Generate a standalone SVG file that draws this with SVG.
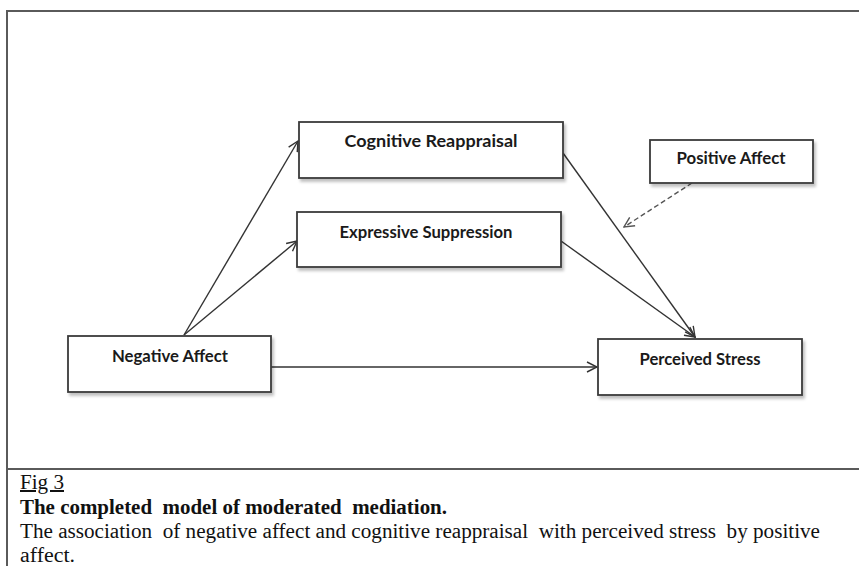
<svg xmlns="http://www.w3.org/2000/svg" width="859" height="566" viewBox="0 0 859 566">
<style>
.box{fill:#fff;stroke:#3a3a3a;stroke-width:1.8}
.lbl{font-family:Lato,"Liberation Sans",sans-serif;font-weight:700;font-size:17px;fill:#1a1a1a;text-anchor:middle}
.edge{fill:none;stroke:#333;stroke-width:1.4}
.dash{fill:none;stroke:#555;stroke-width:1.4;stroke-dasharray:5 3}
.cap{font-family:"Liberation Serif","Times New Roman",serif;font-size:20px;fill:#111;white-space:pre}
.frame{stroke:#5a5a5a;stroke-width:2;fill:none}
</style>
<defs>
<marker id="arr" viewBox="0 0 12 12" refX="11" refY="6" markerWidth="12" markerHeight="12" markerUnits="userSpaceOnUse" orient="auto">
<path d="M1,1 L11,6 L1,11" fill="none" stroke="#333" stroke-width="1.4"/>
</marker>
<marker id="arrd" viewBox="0 0 12 12" refX="11" refY="6" markerWidth="12" markerHeight="12" markerUnits="userSpaceOnUse" orient="auto">
<path d="M1,1 L11,6 L1,11" fill="none" stroke="#555" stroke-width="1.4"/>
</marker>
<filter id="sh" x="-10%" y="-20%" width="130%" height="160%">
<feDropShadow dx="2" dy="3" stdDeviation="1.5" flood-color="#000" flood-opacity="0.25"/>
</filter>
</defs>
<rect width="859" height="566" fill="#fff"/>
<g id="frame">
<line class="frame" x1="7" y1="11" x2="859" y2="11"/>
<line class="frame" x1="7" y1="10" x2="7" y2="566"/>
<line class="frame" x1="7" y1="469" x2="859" y2="469" stroke-width="1.6"/>
</g>
<g id="connectors">
<line class="edge" x1="184" y1="335" x2="298" y2="141" marker-end="url(#arr)"/>
<line class="edge" x1="184" y1="335" x2="297" y2="241" marker-end="url(#arr)"/>
<line class="edge" x1="271" y1="367" x2="597" y2="367" marker-end="url(#arr)"/>
<line class="edge" x1="563" y1="153" x2="695" y2="337" marker-end="url(#arr)"/>
<line class="edge" x1="561" y1="241" x2="695" y2="337" marker-end="url(#arr)"/>
<line class="dash" x1="692" y1="183" x2="624" y2="227" marker-end="url(#arrd)"/>
</g>
<g id="cognitive-reappraisal">
<rect class="box" x="299" y="122" width="264" height="56" filter="url(#sh)"/>
<text class="lbl" x="431" y="147" textLength="173" lengthAdjust="spacingAndGlyphs">Cognitive Reappraisal</text>
</g>
<g id="expressive-suppression">
<rect class="box" x="297" y="212" width="264" height="55" filter="url(#sh)"/>
<text class="lbl" x="426" y="238" textLength="173" lengthAdjust="spacingAndGlyphs">Expressive Suppression</text>
</g>
<g id="positive-affect">
<rect class="box" x="650" y="140" width="163" height="43" filter="url(#sh)"/>
<text class="lbl" x="731" y="164" textLength="109" lengthAdjust="spacingAndGlyphs">Positive Affect</text>
</g>
<g id="negative-affect">
<rect class="box" x="68" y="336" width="203" height="56" filter="url(#sh)"/>
<text class="lbl" x="170" y="362" textLength="116" lengthAdjust="spacingAndGlyphs">Negative Affect</text>
</g>
<g id="perceived-stress">
<rect class="box" x="598" y="339" width="204" height="56" filter="url(#sh)"/>
<text class="lbl" x="700" y="365" textLength="121" lengthAdjust="spacingAndGlyphs">Perceived Stress</text>
</g>
<g id="caption">
<text class="cap" x="20" y="489" textLength="44" lengthAdjust="spacingAndGlyphs" text-decoration="underline">Fig 3</text>
<text class="cap" x="20" y="514" font-weight="700" textLength="427" lengthAdjust="spacingAndGlyphs">The completed  model of moderated  mediation.</text>
<text class="cap" x="20" y="538" textLength="800" lengthAdjust="spacingAndGlyphs">The association  of negative affect and cognitive reappraisal  with perceived stress  by positive</text>
<text class="cap" x="20" y="562" textLength="55" lengthAdjust="spacingAndGlyphs">affect.</text>
</g>
</svg>
